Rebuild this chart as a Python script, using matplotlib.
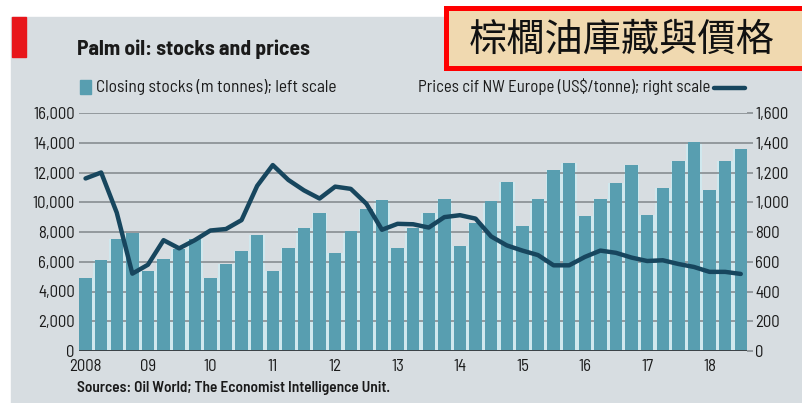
import matplotlib
matplotlib.use("Agg")
import matplotlib.pyplot as plt
from matplotlib.patches import Rectangle
from matplotlib.lines import Line2D
from matplotlib.ticker import FuncFormatter
import numpy as np


title = "Palm oil: stocks and prices"
overlay_title = "棕櫚油庫藏與價格"
stocks_label = "Closing stocks (m tonnes); left scale"
prices_label = "Prices cif NW Europe (US$/tonne); right scale"
source = "Sources: Oil World; The Economist Intelligence Unit."

year_labels = ["2008", "09", "10", "11", "12", "13", "14", "15", "16", "17", "18"]

# quarterly closing stocks, Q1 2008 .. Q3 2018
stocks = [4900, 6150, 7500, 7900, 5350, 6200, 6850, 7500, 4900, 5850,
          6750, 7800, 5350, 6900, 8300, 9250, 6600, 8050, 9550, 10150,
          6950, 8250, 9300, 10200, 7050, 8600, 10100, 11350, 8400, 10250,
          12150, 12650, 9050, 10200, 11300, 12500, 9150, 10950, 12800, 14050,
          10800, 12800, 13550]

# prices cif NW Europe, same quarters
prices = [1160, 1200, 930, 520, 580, 745, 690, 745, 810, 820,
          880, 1110, 1250, 1150, 1080, 1025, 1105, 1090, 990, 815,
          855, 852, 830, 900, 913, 890, 770, 710, 675, 645,
          576, 576, 632, 675, 660, 628, 605, 610, 585, 565,
          532, 532, 518]

bar_color = "#589eb0"
halo_color = "#cfe8ee"
line_color = "#17465e"
grid_color = "#80868a"
panel_color = "#d7dde1"
text_color = "#1a1a1a"

plt.rcParams["font.family"] = ["Barlow Semi Condensed", "DejaVu Sans"]

W, H = 802, 403
fig = plt.figure(figsize=(W / 100, H / 100), dpi=100)


def px(x, y, w, h):
    # pixel box (top-left origin) -> figure fraction
    return [x / W, 1 - (y + h) / H, w / W, h / H]


# grey panel and red tag
fig.patches.append(Rectangle((11 / W, 0), 1, 1 - 17 / H, transform=fig.transFigure,
                             color=panel_color, zorder=-10))
fig.patches.append(Rectangle((12 / W, 1 - 57 / H), 14 / W, 40 / H, transform=fig.transFigure,
                             color="#e8161b", zorder=-9))

ax = fig.add_axes(px(79, 113, 668, 238))
ax.set_facecolor("none")
ax2 = ax.twinx()

x = np.arange(len(stocks))
ax.bar(x, stocks, width=1.0, color=halo_color, zorder=1)
ax.bar(x, stocks, width=0.8, color=bar_color, zorder=3)

ax.set_xlim(-0.42, 42.4)
ax.set_ylim(0, 16000)
ax.set_yticks(range(0, 16001, 2000))
ax.yaxis.set_major_formatter(FuncFormatter(lambda v, p: f"{int(v):,}"))
ax.yaxis.grid(True, color=grid_color, linewidth=1.1)
for gl in ax.get_ygridlines():
    gl.set_zorder(2)
ax.axhline(0, color="#3c4246", linewidth=1.4, zorder=4)

ax.set_xticks(x[::4])
ax.set_xticklabels(year_labels)
ax.tick_params(axis="x", length=0, pad=6, labelsize=12, colors=text_color)
ax.tick_params(axis="y", length=0, pad=3, labelsize=12, colors=text_color)

ax2.plot(x, prices, color=line_color, linewidth=3.2, solid_joinstyle="round",
         solid_capstyle="round", zorder=5)
ax2.set_ylim(0, 1600)
ax2.set_yticks(range(0, 1601, 200))
ax2.yaxis.set_major_formatter(FuncFormatter(lambda v, p: f"{int(v):,}"))
ax2.tick_params(axis="y", length=4, width=1.1, pad=2, labelsize=12,
                colors=text_color)
ax2.tick_params(axis="y", color=grid_color)

for a in (ax, ax2):
    for s in a.spines.values():
        s.set_visible(False)

# title, legend, source
fig.text(77 / W, 1 - 49 / H, title, fontsize=15.5, fontweight="bold",
         color=text_color, va="center", ha="left")

fig.patches.append(Rectangle((80 / W, 1 - 94 / H), 11 / W, 14 / H, transform=fig.transFigure,
                             color=bar_color))
fig.text(96 / W, 1 - 87 / H, stocks_label, fontsize=12.5, color=text_color,
         va="center", ha="left")
fig.text(710 / W, 1 - 87 / H, prices_label, fontsize=12, color=text_color,
         va="center", ha="right")
fig.lines.append(Line2D([714 / W, 745 / W], [1 - 88 / H, 1 - 88 / H], transform=fig.transFigure,
                        color=line_color, linewidth=3.2, solid_capstyle="round"))

fig.text(77 / W, 1 - 388 / H, source, fontsize=11, fontweight="semibold",
         color=text_color, va="center", ha="left")

# overlaid Chinese label box
fig.patches.append(Rectangle((445.5 / W, 1 - 67.5 / H), 370 / W, 60 / H, transform=fig.transFigure,
                             facecolor="#f0d9b0", edgecolor="#ff0000", linewidth=3.6, zorder=5))
fig.text(622 / W, 1 - 40 / H, overlay_title, fontsize=27.5, color="#111111",
         family=["Noto Sans CJK TC", "DejaVu Sans"], fontweight="light",
         va="center", ha="center", zorder=6)

fig.savefig("out.png", dpi=100, facecolor="white")
